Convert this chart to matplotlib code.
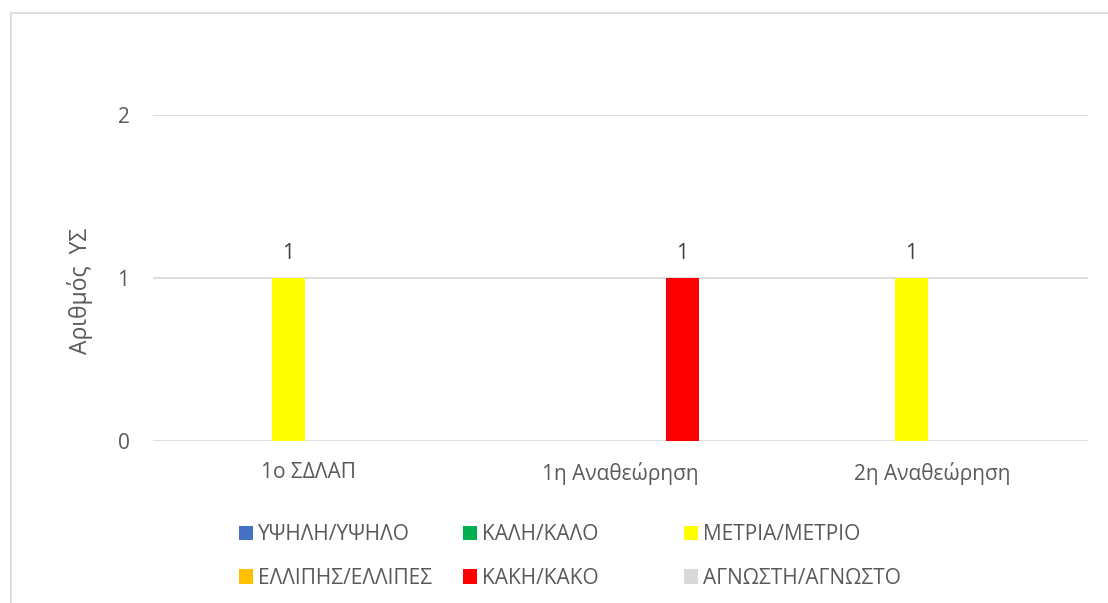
import numpy as np
import matplotlib.pyplot as plt
from matplotlib.patches import Rectangle, Patch

plt.rcParams['font.family'] = ['Open Sans', 'DejaVu Sans']

categories = ['1ο ΣΔΛΑΠ', '1η Αναθεώρηση', '2η Αναθεώρηση']
series_names = ['ΥΨΗΛΗ/ΥΨΗΛΟ', 'ΚΑΛΗ/ΚΑΛΟ', 'ΜΕΤΡΙΑ/ΜΕΤΡΙΟ',
                'ΕΛΛΙΠΗΣ/ΕΛΛΙΠΕΣ', 'ΚΑΚΗ/ΚΑΚΟ', 'ΑΓΝΩΣΤΗ/ΑΓΝΩΣΤΟ']
high = [np.nan, np.nan, np.nan]
good = [np.nan, np.nan, np.nan]
moderate = [1, np.nan, 1]
poor = [np.nan, np.nan, np.nan]
bad = [np.nan, 1, np.nan]
unknown = [np.nan, np.nan, np.nan]
colors = ['#4472C4', '#00B050', '#FFFF00', '#FFC000', '#FF0000', '#D9D9D9']

series = [high, good, moderate, poor, bad, unknown]

W, H = 1108, 603
fig = plt.figure(figsize=(W / 100, H / 100), dpi=100)
ax = fig.add_axes([153 / W, (H - 441) / H, 935 / W, 326 / H])

# outer chart border (cut off at right and bottom)
fig.patches.append(Rectangle((11 / W, -0.05), 1.2, (H - 13) / H + 0.05,
                             transform=fig.transFigure, fill=False,
                             edgecolor='#D9D9D9', lw=1.2))

x = np.arange(len(categories))
step = 0.1323
bw = 0.106
for i, (vals, c) in enumerate(zip(series, colors)):
    pos = x + (i - 2.5) * step
    ax.bar(pos, vals, width=bw, color=c, zorder=3)
    for p, v in zip(pos, vals):
        if not np.isnan(v):
            ax.text(p, v + 0.085, f'{v:g}', ha='center', va='bottom',
                    fontsize=15, color='#404040')

ax.set_xlim(-0.5, 2.5)
ax.set_ylim(0, 2)
ax.set_yticks([0, 1, 2])
ax.set_xticks(x)
ax.set_xticklabels(categories)
ax.grid(axis='y', color='#D9D9D9', lw=1.2, zorder=0)
for s in ax.spines.values():
    s.set_visible(False)
ax.tick_params(axis='both', length=0, labelsize=15, labelcolor='#595959')
ax.tick_params(axis='y', pad=17)
ax.tick_params(axis='x', pad=15)
ax.set_ylabel('Αριθμός  ΥΣ', fontsize=16.5, color='#595959')
ax.yaxis.set_label_coords(-0.064, 0.46)

# legend laid out as three equal columns, filled row by row
col_x = [239, 463, 684]
for col in range(3):
    idx = [col, col + 3]
    handles = [Patch(facecolor=colors[j]) for j in idx]
    fig.legend(handles, [series_names[j] for j in idx],
               loc='upper left',
               bbox_to_anchor=(col_x[col] / W, (H - 524) / H),
               frameon=False, fontsize=15, labelcolor='#595959',
               handlelength=0.68, handleheight=0.68, handletextpad=0.25,
               labelspacing=1.1, borderpad=0, borderaxespad=0)

fig.savefig('out.png', dpi=100)
